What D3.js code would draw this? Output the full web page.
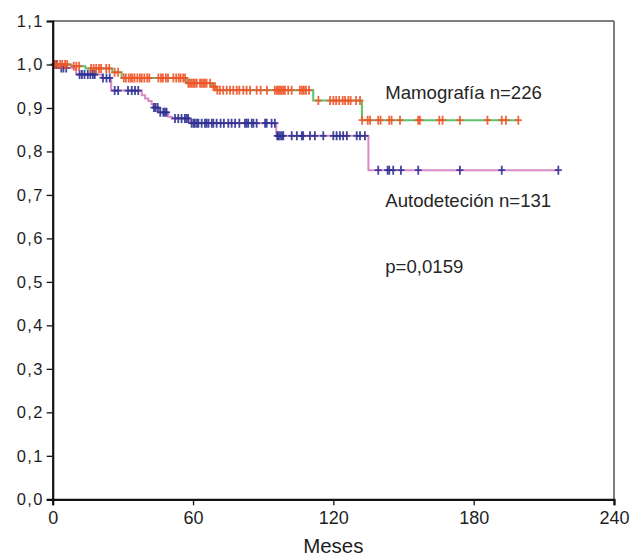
<!DOCTYPE html>
<html>
<head>
<meta charset="utf-8">
<script src="https://cdn.jsdelivr.net/npm/d3@7"></script>
<style>
  html, body { margin: 0; padding: 0; background: #fff; }
  svg { display: block; font-family: "Liberation Sans", Arial, Helvetica, sans-serif; }
</style>
</head>
<body>
<svg id="chart" width="640" height="556"></svg>
<script>
// Kaplan–Meier survival by detection method (months of follow-up)

// Axis ticks
const xTicks = [0, 60, 120, 180, 240];
const yTicks = [0, 0.1, 0.2, 0.3, 0.4, 0.5, 0.6, 0.7, 0.8, 0.9, 1.0, 1.1];

// Mamografía group: step times (months) and survival after each step
const mamoStepTimes = [0, 8, 14, 25.5, 29.5, 57.3, 68, 70, 111.4, 132.2];
const mamoStepSurv  = [1.0, 0.996, 0.991, 0.982, 0.969, 0.957, 0.949, 0.941, 0.917, 0.872];
const mamoLastTime  = 199.1;
// Mamografía group: censored follow-up times
const mamoCensored = [
  1.0, 2.0, 3.2, 4.1, 5.3, 6.2, 9.0, 10.1, 11.3, 16.4, 17.5, 18.6, 19.8, 20.7, 22.9, 24.2,
  26.5, 28.0,
  30.4, 31.3, 32.5, 33.4, 34.1, 35.0, 36.2, 37.3, 38.1, 39.2, 40.4, 41.3, 45.2, 46.3, 47.1,
  48.4, 49.3, 51.6, 52.8, 53.9, 54.7, 55.8, 56.6,
  58.0, 58.7, 59.4, 60.1, 60.8, 61.6, 63.0, 63.7, 64.4, 65.1, 65.8, 67.3,
  68.7, 69.4,
  70.4, 71.5, 72.9, 74.4, 75.8, 77.2, 78.7, 79.8, 81.5, 82.9, 84.4, 87.2, 88.9, 91.6, 95.0,
  95.9, 96.5, 97.2, 97.9, 98.6, 99.3, 100.7, 102.2, 105.7, 106.6, 107.4, 108.3, 109.6,
  113.6, 118.6, 120.0, 121.2, 122.5, 124.0, 125.0, 126.4, 127.4, 129.7, 131.4,
  132.3, 134.7, 135.7, 139.2, 140.2, 143.9, 144.9, 148.5, 156.3, 157.0, 165.3, 166.7,
  174.1, 185.9, 192.0, 193.8, 199.1
];

// Autodetección group: step times (months) and survival after each step
const autoStepTimes = [0, 2.5, 10, 21, 25, 38.1, 39.5, 40.9, 42.3, 43.0, 45.5, 49.4, 50.9, 58.7, 95.6, 135.0];
const autoStepSurv  = [1.0, 0.992, 0.977, 0.969, 0.940, 0.929, 0.922, 0.916, 0.909, 0.901, 0.890, 0.880, 0.876, 0.865, 0.836, 0.757];
const autoLastTime  = 216.2;
// Autodetección group: censored follow-up times
const autoCensored = [
  0.6, 1.5, 3.7, 4.6, 5.8, 11.5, 12.5, 13.6, 15.0, 16.1, 17.2, 18.0, 21.5, 23.0, 24.4,
  26.5, 28.0, 32.2, 33.8, 35.2, 36.6,
  43.3, 44.0, 44.9, 46.0, 47.3, 48.0, 48.7,
  52.3, 53.7, 55.1, 56.5, 57.2, 57.9,
  59.4, 60.2, 60.8, 61.7, 62.3, 63.7, 65.1, 65.8, 66.6, 68.0, 68.7, 70.1, 71.8, 73.2,
  75.1, 76.5, 78.0, 79.8, 82.2, 82.9, 83.6, 85.1, 85.8, 87.2, 90.8, 91.5, 93.6, 95.0,
  96.0, 96.5, 97.2, 98.0, 98.6, 102.2, 104.4, 106.5, 107.1, 110.0, 112.1, 115.7, 120.0,
  121.4, 122.8, 124.2, 125.8, 130.0, 131.4, 133.5,
  139.2, 143.2, 143.9, 145.6, 148.9, 156.3, 174.1, 192.0, 216.2
];

// Annotation texts
const labelMamo = "Mamografía n=226";
const labelAuto = "Autodeteción n=131";
const labelP = "p=0,0159";
const xTitle = "Meses";

const svg = d3.select("#chart");
const plotLeft = 52.7, plotRight = 614, plotTop = 21, plotBottom = 499.3;

const x = d3.scaleLinear().domain([0, 240]).range([plotLeft, plotRight]);
const y = d3.scaleLinear().domain([0, 1.1]).range([plotBottom, plotTop]);

const fmt = v => d3.format(".1f")(v).replace(".", ",");

// Frame: top and right edges
svg.append("line").attr("x1", plotLeft).attr("x2", plotRight).attr("y1", plotTop).attr("y2", plotTop)
  .attr("stroke", "#555").attr("stroke-width", 1.5);
svg.append("line").attr("x1", plotRight).attr("x2", plotRight).attr("y1", plotTop).attr("y2", plotBottom)
  .attr("stroke", "#555").attr("stroke-width", 1.5);

// Survival value of a step function at time t
function survAt(times, surv, t) {
  const i = d3.bisectRight(times, t) - 1;
  return surv[Math.max(0, i)];
}

function curvePoints(times, surv, last) {
  const pts = times.map((t, i) => [t, surv[i]]);
  pts.push([last, surv[surv.length - 1]]);
  return pts;
}

const line = d3.line()
  .x(d => x(d[0]))
  .y(d => y(d[1]))
  .curve(d3.curveStepAfter);

function drawGroup(times, surv, last, censored, lineColor, markColor) {
  const g = svg.append("g");
  g.append("path")
    .datum(curvePoints(times, surv, last))
    .attr("d", line)
    .attr("fill", "none")
    .attr("stroke", lineColor)
    .attr("stroke-width", 2);
  const marks = g.append("g")
    .attr("stroke", markColor)
    .attr("stroke-width", 1.8)
    .attr("stroke-opacity", 0.9);
  censored.forEach(t => {
    const cx = x(t), cy = y(survAt(times, surv, t));
    marks.append("path")
      .attr("d", `M${cx - 3.5},${cy}H${cx + 3.5}M${cx},${cy - 4.5}V${cy + 4.5}`);
  });
}

drawGroup(autoStepTimes, autoStepSurv, autoLastTime, autoCensored, "#d98ac6", "#2e3192");
drawGroup(mamoStepTimes, mamoStepSurv, mamoLastTime, mamoCensored, "#5cc36c", "#f05428");

// Axes
const yAxis = svg.append("g")
  .attr("transform", `translate(${plotLeft},0)`)
  .call(d3.axisLeft(y).tickValues(yTicks).tickFormat(fmt).tickSize(6).tickPadding(3));
const xAxis = svg.append("g")
  .attr("transform", `translate(0,${plotBottom})`)
  .call(d3.axisBottom(x).tickValues(xTicks).tickFormat(d3.format("d")).tickSize(6).tickPadding(6));

[yAxis, xAxis].forEach(a => {
  a.select(".domain").attr("stroke", "#111").attr("stroke-width", 2.2);
  a.selectAll(".tick line").attr("stroke", "#111").attr("stroke-width", 1.3);
  a.selectAll(".tick text").attr("fill", "#1e1e1e").attr("font-family", "Liberation Sans, Arial, sans-serif");
});
yAxis.selectAll(".tick text").attr("font-size", 16.5).attr("letter-spacing", "1.3px");
xAxis.selectAll(".tick text").attr("font-size", 18);

// Axis title
svg.append("text")
  .attr("x", x(120)).attr("y", 553)
  .attr("text-anchor", "middle")
  .attr("font-size", 20.5)
  .attr("fill", "#1e1e1e")
  .text(xTitle);

// Group labels and log-rank p-value
const notes = [
  { text: labelMamo, t: 142.2, yy: 99 },
  { text: labelAuto, t: 142.2, yy: 206.5 },
  { text: labelP, t: 142.2, yy: 272.5 }
];
svg.selectAll("text.note").data(notes).join("text")
  .attr("class", "note")
  .attr("x", d => x(d.t))
  .attr("y", d => d.yy)
  .attr("font-size", 18.6)
  .attr("fill", "#262626")
  .text(d => d.text);
</script>
</body>
</html>
